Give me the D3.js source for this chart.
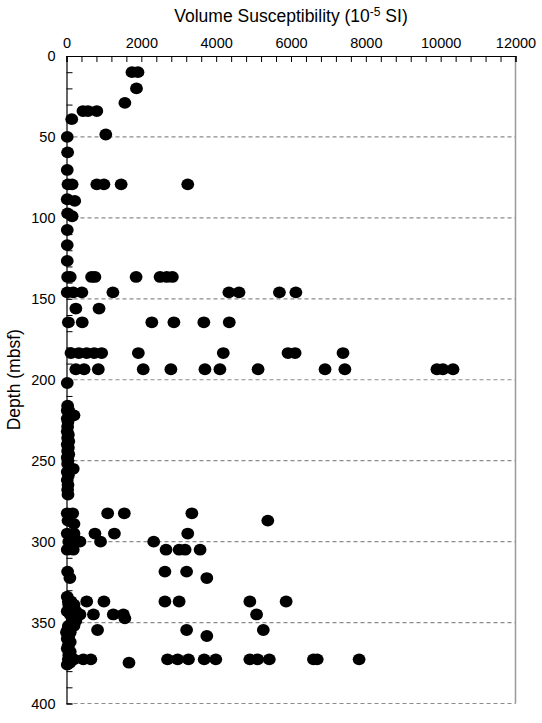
<!DOCTYPE html>
<html>
<head>
<meta charset="utf-8">
<script src="https://cdn.jsdelivr.net/npm/d3@7"></script>
<style>
  body { margin: 0; background: #fff; }
  svg text { font-family: "Liberation Sans", Arial, Helvetica, sans-serif; }
</style>
</head>
<body>
<div id="chart"></div>
<script>
'use strict';

// depth rows (mbsf) and the susceptibility readings (10^-5 SI) found at each
const rowDepth = [
	10, 20, 29, 34, 39, 48.5, 50, 59.5, 70.4, 79.3, 88.5, 89.5, 97.2, 99, 107.5, 116.8, 126.6,
	136.5, 146, 156, 164.5, 183.5, 193.5, 202,
	216, 219, 222, 224, 226, 229, 232, 234, 236, 238, 240, 242, 244, 246, 248, 250, 252, 255, 257, 259, 262, 265, 268, 271,
	282.5, 287, 289, 295, 300, 305, 318.5, 322.5,
	334, 337, 339, 341, 343, 345, 347.4, 349, 352, 354.6, 356, 358.3, 360, 362, 364, 366, 368, 370, 372.7, 374.8, 376
];
const rowSusc = [
	[1750, 1910], [1870], [1560], [440, 575, 810], [140], [1050], [20], [30], [20],
	[40, 150, 810, 1000, 1460, 3240], [20], [220], [30], [150], [20], [20], [20],
	[30, 100, 670, 760, 1860, 2500, 2680, 2830],
	[20, 180, 410, 1240, 4340, 4610, 5690, 6130],
	[250, 870],
	[50, 420, 2280, 2870, 3670, 4350],
	[120, 330, 540, 740, 940, 1920, 4190, 5920, 6110, 7390],
	[250, 470, 850, 2050, 2790, 3700, 4100, 5120, 6910, 7440, 9900, 10060, 10330],
	[20],
	[30], [20, 60], [200], [20], [40], [30], [20], [50], [30], [60], [20], [50], [30], [60], [20], [40], [30], [180], [20], [50], [20], [40], [30], [40],
	[20, 165, 1100, 1545, 3350], [40, 5380], [200], [20, 200, 760, 1280, 3240], [60, 360, 910, 2330],
	[20, 180, 2660, 3010, 3170, 3570], [30, 2630, 3210], [90, 3750],
	[20], [50, 120, 540, 1000, 2630, 3010, 4900, 5870], [60, 200], [150], [250, 20],
	[100, 360, 720, 1250, 1520, 5080], [1560], [150, 250], [50, 200], [30, 830, 3210, 5260], [0, 100], [3750, 60],
	[20], [100], [50], [20], [100], [60],
	[50, 200, 450, 650, 2700, 2970, 3260, 3680, 3990, 4900, 5110, 5420, 6600, 6700, 7820],
	[90, 1670], [20]
];

const xMajor = [0, 2000, 4000, 6000, 8000, 10000, 12000];
const yMajor = [0, 50, 100, 150, 200, 250, 300, 350, 400];

const points = [];
rowDepth.forEach(function(depth, i) {
	rowSusc[i].forEach(function(v) {
		points.push({ depth: depth, susc: v });
	});
});

const svgWidth = 542;
const svgHeight = 723;
const plotLeft = 66.5, plotRight = 515.5, plotTop = 56, plotBottom = 703.5;

const x = d3.scaleLinear().domain([0, 12000]).range([plotLeft, plotRight]);
const y = d3.scaleLinear().domain([0, 400]).range([plotTop, plotBottom]);

const svg = d3.select('#chart')
	.append('svg')
	.attr('width', svgWidth)
	.attr('height', svgHeight);

// dashed grid at each labelled depth
svg.append('g')
	.selectAll('line')
	.data(yMajor.slice(1))
	.enter()
	.append('line')
	.attr('x1', plotLeft)
	.attr('x2', plotRight)
	.attr('y1', d => y(d))
	.attr('y2', d => y(d))
	.attr('stroke', '#8c8c8c')
	.attr('stroke-width', 1.2)
	.attr('stroke-dasharray', '4,3');

// right frame
svg.append('line')
	.attr('x1', plotRight).attr('x2', plotRight)
	.attr('y1', plotTop).attr('y2', plotBottom)
	.attr('stroke', '#999')
	.attr('stroke-width', 1.5);

// top axis, minor tick every 400
const xAxis = d3.axisTop(x)
	.tickValues(d3.range(0, 12001, 400))
	.tickSize(-6)
	.tickPadding(8)
	.tickFormat(d => xMajor.includes(d) ? d : '');

const gx = svg.append('g')
	.attr('transform', `translate(0,${plotTop})`)
	.call(xAxis);
gx.select('.domain').attr('stroke', '#000').attr('stroke-width', 1.2);
gx.selectAll('.tick line').attr('stroke', '#000');
gx.selectAll('.tick text').attr('font-size', 14.5).attr('fill', '#000');

// left axis, minor tick every 10 m
const yAxis = d3.axisLeft(y)
	.tickValues(d3.range(0, 401, 10))
	.tickSize(-6)
	.tickPadding(11)
	.tickFormat(d => yMajor.includes(d) ? d : '');

const gy = svg.append('g')
	.attr('transform', `translate(${plotLeft},0)`)
	.call(yAxis);
gy.select('.domain').attr('stroke', '#000').attr('stroke-width', 1.2);
gy.selectAll('.tick line').attr('stroke', '#000');
gy.selectAll('.tick text').attr('font-size', 14.5).attr('fill', '#000');

// samples
svg.append('g')
	.selectAll('ellipse')
	.data(points)
	.enter()
	.append('ellipse')
	.attr('cx', d => x(d.susc))
	.attr('cy', d => y(d.depth))
	.attr('rx', 6.4)
	.attr('ry', 5.9)
	.attr('fill', '#000');

// titles
const title = svg.append('text')
	.attr('x', (plotLeft + plotRight) / 2)
	.attr('y', 22)
	.attr('text-anchor', 'middle')
	.attr('font-size', 17.5)
	.attr('fill', '#000');
title.append('tspan').text('Volume Susceptibility (10');
title.append('tspan').attr('font-size', 12).attr('dy', -6).text('-5');
title.append('tspan').attr('dy', 6).text(' SI)');

svg.append('text')
	.attr('transform', `translate(19.5,${(plotTop + plotBottom) / 2}) rotate(-90)`)
	.attr('text-anchor', 'middle')
	.attr('font-size', 17.5)
	.attr('fill', '#000')
	.text('Depth (mbsf)');
</script>
</body>
</html>
